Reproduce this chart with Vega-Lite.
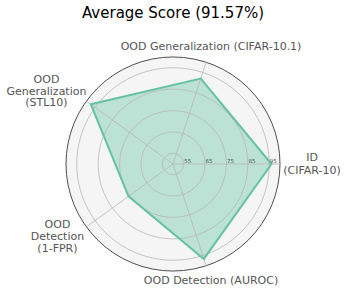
{
  "$schema": "https://vega.github.io/schema/vega-lite/v6.json",
  "width": 214,
  "height": 214,
  "autosize": {"type": "none"},
  "padding": {"left": 66, "top": 57, "right": 67, "bottom": 22},
  "background": "white",
  "title": {"text": "Average Score (91.57%)", "fontSize": 15, "font": "DejaVu Sans", "fontWeight": "normal", "color": "black", "frame": "group", "anchor": "middle", "offset": 20},
  "config": {"view": {"stroke": null}},
  "datasets": {
    "scores": [
      {"i": 0, "metric": "ID\n(CIFAR-10)", "score": 96.0},
      {"i": 1, "metric": "OOD Generalization (CIFAR-10.1)", "score": 92.0},
      {"i": 2, "metric": "OOD\nGeneralization\n(STL10)", "score": 97.5},
      {"i": 3, "metric": "OOD\nDetection\n(1-FPR)", "score": 75.7},
      {"i": 4, "metric": "OOD Detection (AUROC)", "score": 96.65}
    ],
    "rings": [{"v": 55}, {"v": 65}, {"v": 75}, {"v": 85}, {"v": 95}],
    "outer": [{"v": 100}]
  },
  "layer": [
    {
      "data": {"name": "outer"},
      "transform": [{"calculate": "datum.v - 50", "as": "rr"}, {"calculate": "0", "as": "c0"}],
      "mark": {"type": "point", "shape": "circle", "filled": true, "fill": "#f5f5f5", "stroke": "#222222", "strokeWidth": 0.8, "opacity": 1},
      "encoding": {
        "x": {"field": "c0", "type": "quantitative", "scale": {"domain": [-50, 50], "nice": false, "zero": false}, "axis": null},
        "y": {"field": "c0", "type": "quantitative", "scale": {"domain": [-50, 50], "nice": false, "zero": false}, "axis": null},
        "size": {"field": "rr", "type": "quantitative", "scale": {"type": "pow", "exponent": 2, "domain": [0, 50], "range": [0, 45796], "nice": false}, "legend": null}
      }
    },
    {
      "data": {"name": "scores"},
      "transform": [
        {"calculate": "datum.i * 2 * PI / 5", "as": "ang"},
        {"calculate": "(datum.score - 50) * cos(datum.ang)", "as": "px"},
        {"calculate": "(datum.score - 50) * sin(datum.ang)", "as": "py"}
      ],
      "mark": {"type": "line", "interpolate": "linear-closed", "fill": "#66c2a5", "fillOpacity": 0.4, "strokeOpacity": 0},
      "encoding": {
        "x": {"field": "px", "type": "quantitative"},
        "y": {"field": "py", "type": "quantitative"},
        "order": {"field": "i", "type": "quantitative"}
      }
    },
    {
      "data": {"name": "rings"},
      "transform": [{"calculate": "datum.v - 50", "as": "rr"}, {"calculate": "0", "as": "c0"}],
      "mark": {"type": "point", "shape": "circle", "filled": false, "stroke": "#b8b8b8", "strokeWidth": 0.8, "opacity": 1},
      "encoding": {
        "x": {"field": "c0", "type": "quantitative"},
        "y": {"field": "c0", "type": "quantitative"},
        "size": {"field": "rr", "type": "quantitative", "legend": null}
      }
    },
    {
      "data": {"name": "scores"},
      "transform": [
        {"calculate": "datum.i * 2 * PI / 5", "as": "ang"},
        {"calculate": "0", "as": "c0"},
        {"calculate": "50 * cos(datum.ang)", "as": "ex"},
        {"calculate": "50 * sin(datum.ang)", "as": "ey"}
      ],
      "mark": {"type": "rule", "stroke": "#b8b8b8", "strokeWidth": 0.8},
      "encoding": {
        "x": {"field": "c0", "type": "quantitative"},
        "y": {"field": "c0", "type": "quantitative"},
        "x2": {"field": "ex"},
        "y2": {"field": "ey"}
      }
    },
    {
      "data": {"name": "scores"},
      "transform": [
        {"calculate": "datum.i * 2 * PI / 5", "as": "ang"},
        {"calculate": "(datum.score - 50) * cos(datum.ang)", "as": "px"},
        {"calculate": "(datum.score - 50) * sin(datum.ang)", "as": "py"}
      ],
      "mark": {"type": "line", "interpolate": "linear-closed", "stroke": "#66c2a5", "strokeWidth": 2},
      "encoding": {
        "x": {"field": "px", "type": "quantitative"},
        "y": {"field": "py", "type": "quantitative"},
        "order": {"field": "i", "type": "quantitative"}
      }
    },
    {
      "data": {"name": "rings"},
      "transform": [{"calculate": "datum.v - 50", "as": "tx"}, {"calculate": "0", "as": "c0"}],
      "mark": {"type": "text", "align": "left", "baseline": "alphabetic", "dy": -1.5, "dx": 0.5, "fontSize": 5.5, "font": "DejaVu Sans", "color": "#555555"},
      "encoding": {
        "x": {"field": "tx", "type": "quantitative"},
        "y": {"field": "c0", "type": "quantitative"},
        "text": {"field": "v", "type": "quantitative"}
      }
    },
    {
      "data": {"name": "scores"},
      "transform": [
        {"filter": "datum.i == 1 || datum.i == 4"},
        {"calculate": "datum.i * 2 * PI / 5", "as": "ang"},
        {"calculate": "57.5 * cos(datum.ang)", "as": "lx"},
        {"calculate": "57.5 * sin(datum.ang)", "as": "ly"}
      ],
      "mark": {"type": "text", "align": "center", "baseline": "middle", "fontSize": 11, "font": "DejaVu Sans", "color": "#555555", "lineBreak": "\n", "lineHeight": 11.5},
      "encoding": {
        "x": {"field": "lx", "type": "quantitative"},
        "y": {"field": "ly", "type": "quantitative"},
        "text": {"field": "metric", "type": "nominal"}
      }
    },
    {
      "data": {"name": "scores"},
      "transform": [
        {"filter": "datum.i == 0"},
        {"calculate": "datum.i * 2 * PI / 5", "as": "ang"},
        {"calculate": "57.5 * cos(datum.ang)", "as": "lx"},
        {"calculate": "57.5 * sin(datum.ang)", "as": "ly"}
      ],
      "mark": {"type": "text", "align": "center", "baseline": "middle", "dx": 16, "dy": -6, "fontSize": 11, "font": "DejaVu Sans", "color": "#555555", "lineBreak": "\n", "lineHeight": 13},
      "encoding": {
        "x": {"field": "lx", "type": "quantitative"},
        "y": {"field": "ly", "type": "quantitative"},
        "text": {"field": "metric", "type": "nominal"}
      }
    },
    {
      "data": {"name": "scores"},
      "transform": [
        {"filter": "datum.i == 2"},
        {"calculate": "datum.i * 2 * PI / 5", "as": "ang"},
        {"calculate": "57.5 * cos(datum.ang)", "as": "lx"},
        {"calculate": "57.5 * sin(datum.ang)", "as": "ly"}
      ],
      "mark": {"type": "text", "align": "center", "baseline": "middle", "dx": -27, "dy": -11.5, "fontSize": 11, "font": "DejaVu Sans", "color": "#555555", "lineBreak": "\n", "lineHeight": 11.5},
      "encoding": {
        "x": {"field": "lx", "type": "quantitative"},
        "y": {"field": "ly", "type": "quantitative"},
        "text": {"field": "metric", "type": "nominal"}
      }
    },
    {
      "data": {"name": "scores"},
      "transform": [
        {"filter": "datum.i == 3"},
        {"calculate": "datum.i * 2 * PI / 5", "as": "ang"},
        {"calculate": "57.5 * cos(datum.ang)", "as": "lx"},
        {"calculate": "57.5 * sin(datum.ang)", "as": "ly"}
      ],
      "mark": {"type": "text", "align": "center", "baseline": "middle", "dx": -16, "dy": -11.5, "fontSize": 11, "font": "DejaVu Sans", "color": "#555555", "lineBreak": "\n", "lineHeight": 12},
      "encoding": {
        "x": {"field": "lx", "type": "quantitative"},
        "y": {"field": "ly", "type": "quantitative"},
        "text": {"field": "metric", "type": "nominal"}
      }
    }
  ]
}
